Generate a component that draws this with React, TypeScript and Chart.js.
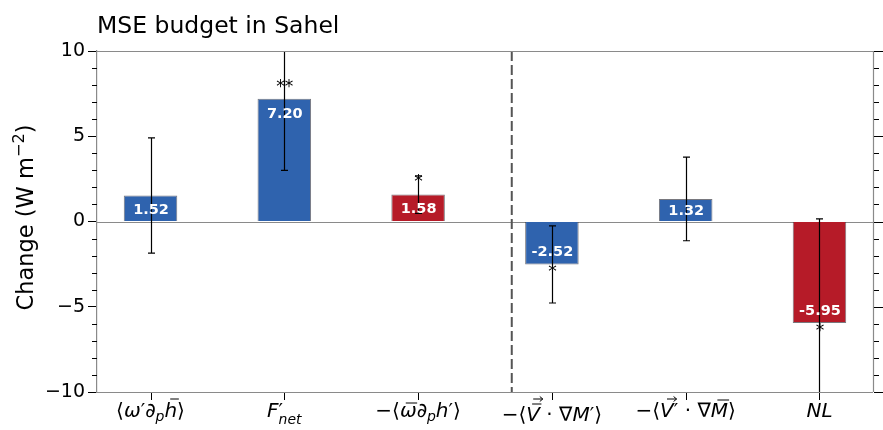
import React, { useEffect, useRef } from 'react';
import { Chart, registerables } from 'chart.js';

Chart.register(...registerables);

// ---------- data ----------
const TITLE = 'MSE budget in Sahel';
const Y_LABEL = 'Change (W m';
const Y_LABEL_SUP = '−2';
const VALUES = [1.52, 7.2, 1.58, -2.52, 1.32, -5.95];
const ERRORS = [3.38, 4.2, 1.1, 2.26, 2.45, 6.1];
const SIGNIF = ['', '**', '*', '*', '', '*'];
const BAR_COLORS = ['#2F63AE', '#2F63AE', '#B61B28', '#2F63AE', '#2F63AE', '#B61B28'];
const Y_MIN = -10;
const Y_MAX = 10;
const Y_STEP = 5;
const DIVIDER_AT = 2.7;

type Run = { t: string; it?: boolean; acc?: 'bar' | 'vec' | 'barvec'; sub?: string; sup?: string };
const X_LABELS: Run[][] = [
  [{ t: '⟨' }, { t: 'ω', it: true }, { t: '′' }, { t: '∂', sub: 'p' }, { t: 'h', it: true, acc: 'bar' }, { t: '⟩' }],
  [{ t: 'F', it: true, sup: '′', sub: 'net' }],
  [{ t: '−' }, { t: '⟨' }, { t: 'ω', it: true, acc: 'bar' }, { t: '∂', sub: 'p' }, { t: 'h', it: true }, { t: '′' }, { t: '⟩' }],
  [{ t: '−' }, { t: '⟨' }, { t: 'V', it: true, acc: 'barvec' }, { t: ' · ' }, { t: '∇' }, { t: 'M', it: true }, { t: '′' }, { t: '⟩' }],
  [{ t: '−' }, { t: '⟨' }, { t: 'V', it: true, acc: 'vec' }, { t: '′' }, { t: ' · ' }, { t: '∇' }, { t: 'M', it: true, acc: 'bar' }, { t: '⟩' }],
  [{ t: 'NL', it: true }],
];

const FONT = '"DejaVu Sans"';
const SPINE = '#8a8a8a';

function fnt(size: number, it?: boolean, bold?: boolean) {
  return `${it ? 'italic ' : ''}${bold ? 'bold ' : ''}${size}px ${FONT}`;
}

function drawRuns(ctx: CanvasRenderingContext2D, runs: Run[], cx: number, baseline: number, fs: number) {
  const subFs = fs * 0.7;
  const items: { r: Run; x: number; bw: number }[] = [];
  let w = 0;
  for (const r of runs) {
    ctx.font = fnt(fs, r.it);
    const bw = r.t ? ctx.measureText(r.t).width : 0;
    let supW = 0;
    let subW = 0;
    if (r.sup) { ctx.font = fnt(fs, false); supW = ctx.measureText(r.sup).width; }
    if (r.sub) { ctx.font = fnt(subFs, true); subW = ctx.measureText(r.sub).width; }
    items.push({ r, x: w, bw });
    w += bw + Math.max(supW, subW);
  }
  const x0 = cx - w / 2;
  ctx.fillStyle = '#000';
  ctx.strokeStyle = '#000';
  ctx.textBaseline = 'alphabetic';
  ctx.textAlign = 'left';
  for (const { r, x, bw } of items) {
    const gx = x0 + x;
    ctx.font = fnt(fs, r.it);
    if (r.t) ctx.fillText(r.t, gx, baseline);
    const top = r.t ? ctx.measureText(r.t).actualBoundingBoxAscent : 0;
    if (r.acc) {
      const skew = r.it ? top * 0.2 : 0;
      ctx.lineWidth = 1;
      const drawBar = (y: number) => {
        ctx.beginPath();
        ctx.moveTo(gx + bw * 0.22 + skew, y);
        ctx.lineTo(gx + bw * 0.9 + skew, y);
        ctx.stroke();
      };
      const drawVec = (y: number) => {
        const a = gx + bw * 0.3 + skew;
        const b = gx + bw * 1.0 + skew;
        ctx.beginPath();
        ctx.moveTo(a, y);
        ctx.lineTo(b, y);
        ctx.moveTo(b - 3, y - 2.5);
        ctx.lineTo(b, y);
        ctx.lineTo(b - 3, y + 2.5);
        ctx.stroke();
      };
      if (r.acc === 'bar') drawBar(baseline - top - 3);
      if (r.acc === 'vec') drawVec(baseline - top - 4);
      if (r.acc === 'barvec') { drawBar(baseline - top - 3); drawVec(baseline - top - 8); }
    }
    const ex = gx + bw;
    if (r.sup) {
      ctx.font = fnt(fs, false);
      ctx.fillText(r.sup, ex, baseline);
    }
    if (r.sub) {
      ctx.font = fnt(subFs, true);
      ctx.fillText(r.sub, ex, baseline + (r.sup ? fs * 0.33 : fs * 0.22));
    }
  }
}

const overlay = {
  id: 'overlay',
  beforeDatasetsDraw(chart: any) {
    const { ctx, chartArea: ca, scales } = chart;
    const y = scales.y;
    const x = scales.x;
    ctx.save();
    // zero line
    ctx.strokeStyle = SPINE;
    ctx.lineWidth = 1.2;
    const y0 = Math.round(y.getPixelForValue(0)) + 0.5;
    ctx.beginPath();
    ctx.moveTo(ca.left, y0);
    ctx.lineTo(ca.right, y0);
    ctx.stroke();
    // divider
    const dx = x.getPixelForValue(DIVIDER_AT);
    ctx.strokeStyle = '#555';
    ctx.lineWidth = 2;
    ctx.setLineDash([10, 4]);
    ctx.beginPath();
    ctx.moveTo(dx, ca.top);
    ctx.lineTo(dx, ca.bottom);
    ctx.stroke();
    ctx.restore();
  },
  afterDatasetsDraw(chart: any) {
    const { ctx, chartArea: ca, scales } = chart;
    const y = scales.y;
    const x = scales.x;
    ctx.save();
    // error bars
    ctx.beginPath();
    ctx.rect(ca.left, ca.top, ca.right - ca.left, ca.bottom - ca.top);
    ctx.clip();
    ctx.strokeStyle = '#000';
    ctx.lineWidth = 1.2;
    VALUES.forEach((v, i) => {
      const px = Math.round(x.getPixelForValue(i)) + 0.5;
      const lo = y.getPixelForValue(v - ERRORS[i]);
      const hi = y.getPixelForValue(v + ERRORS[i]);
      ctx.beginPath();
      ctx.moveTo(px, lo);
      ctx.lineTo(px, hi);
      ctx.moveTo(px - 3.5, lo);
      ctx.lineTo(px + 3.5, lo);
      ctx.moveTo(px - 3.5, hi);
      ctx.lineTo(px + 3.5, hi);
      ctx.stroke();
    });
    // significance asterisks
    ctx.fillStyle = '#000';
    ctx.font = fnt(17);
    ctx.textAlign = 'center';
    ctx.textBaseline = 'alphabetic';
    VALUES.forEach((v, i) => {
      if (!SIGNIF[i]) return;
      const pos = v >= 0 ? v + 0.8 : v - 0.36;
      const cy = y.getPixelForValue(pos);
      ctx.fillText(SIGNIF[i], x.getPixelForValue(i) + 0.5, cy + 17 * 0.38);
    });
    // value labels
    ctx.fillStyle = '#fff';
    ctx.font = fnt(14.5, false, true);
    VALUES.forEach((v, i) => {
      const pos = Math.abs(v) > 2 ? v - Math.sign(v) * 0.8 : v / 2;
      const cy = y.getPixelForValue(pos);
      ctx.fillText(v.toFixed(2), x.getPixelForValue(i) + 0.5, cy + 14.5 * 0.36);
    });
    ctx.restore();
  },
  afterDraw(chart: any) {
    const { ctx, chartArea: ca, scales } = chart;
    const y = scales.y;
    const x = scales.x;
    ctx.save();
    // spines (top, right, bottom)
    ctx.strokeStyle = SPINE;
    ctx.lineWidth = 1.2;
    ctx.beginPath();
    ctx.moveTo(ca.left, ca.top + 0.5);
    ctx.lineTo(ca.right, ca.top + 0.5);
    ctx.moveTo(ca.right + 0.5, ca.top);
    ctx.lineTo(ca.right + 0.5, ca.bottom);
    ctx.moveTo(ca.left, ca.bottom + 0.5);
    ctx.lineTo(ca.right, ca.bottom + 0.5);
    ctx.stroke();
    // minor ticks left & right, major right
    ctx.strokeStyle = '#000';
    ctx.lineWidth = 1;
    ctx.beginPath();
    for (let v = Y_MIN; v <= Y_MAX; v++) {
      const py = Math.round(y.getPixelForValue(v)) + 0.5;
      const major = v % Y_STEP === 0;
      if (!major) {
        ctx.moveTo(ca.left - 5, py);
        ctx.lineTo(ca.left, py);
      }
      ctx.moveTo(ca.right + 1, py);
      ctx.lineTo(ca.right + (major ? 10 : 6), py);
    }
    // bottom category ticks
    X_LABELS.forEach((_, i) => {
      const px = Math.round(x.getPixelForValue(i)) + 0.5;
      ctx.moveTo(px, ca.bottom + 1);
      ctx.lineTo(px, ca.bottom + 8);
    });
    ctx.stroke();
    // x labels
    X_LABELS.forEach((runs, i) => {
      const tall = runs.some((r) => r.acc === 'barvec');
      drawRuns(ctx, runs, x.getPixelForValue(i), tall ? 421 : 417, 20);
    });
    // title
    ctx.fillStyle = '#000';
    ctx.font = fnt(23.5);
    ctx.textAlign = 'left';
    ctx.textBaseline = 'alphabetic';
    ctx.fillText(TITLE, ca.left, 33);
    // y label (rotated)
    const fs = 22.5;
    const sfs = fs * 0.72;
    ctx.font = fnt(fs);
    const w1 = ctx.measureText(Y_LABEL).width;
    const w3 = ctx.measureText(')').width;
    ctx.font = fnt(sfs);
    const w2 = ctx.measureText(Y_LABEL_SUP).width;
    const total = w1 + w2 + w3;
    ctx.translate(33, (ca.top + ca.bottom) / 2 - 4);
    ctx.rotate(-Math.PI / 2);
    let tx = -total / 2;
    ctx.font = fnt(fs);
    ctx.fillText(Y_LABEL, tx, 0);
    tx += w1;
    ctx.font = fnt(sfs);
    ctx.fillText(Y_LABEL_SUP, tx, -fs * 0.42);
    tx += w2;
    ctx.font = fnt(fs);
    ctx.fillText(')', tx, 0);
    ctx.restore();
  },
};

export default function App() {
  const ref = useRef<HTMLCanvasElement | null>(null);
  useEffect(() => {
    if (!ref.current) return;
    const chart = new Chart(ref.current, {
      type: 'bar',
      data: {
        datasets: [
          {
            data: VALUES.map((v, i) => ({ x: i, y: v })),
            backgroundColor: BAR_COLORS,
            borderColor: 'rgba(30,30,40,0.6)',
            borderWidth: 1,
            barPercentage: 0.4,
            categoryPercentage: 1,
          },
        ],
      },
      plugins: [overlay],
      options: {
        responsive: false,
        animation: false,
        layout: { padding: { top: 51, right: 10, left: 0, bottom: 0 } },
        plugins: { legend: { display: false }, tooltip: { enabled: false }, title: { display: false } },
        scales: {
          x: {
            type: 'linear',
            min: -0.4,
            max: 5.4,
            offset: false,
            ticks: { display: false, stepSize: 1, includeBounds: false },
            grid: { display: false },
            border: { display: false },
            afterFit: (s: any) => { s.height = 38; },
          },
          y: {
            min: Y_MIN,
            max: Y_MAX,
            ticks: {
              stepSize: Y_STEP,
              color: '#000',
              padding: 3,
              font: { family: 'DejaVu Sans', size: 19 },
              callback: (v: any) => (Number(v) < 0 ? '\u2212' + Math.abs(Number(v)) : String(v)),
            },
            grid: { drawOnChartArea: false, drawTicks: true, tickLength: 9, tickColor: '#000', tickWidth: 1 },
            border: { display: true, color: SPINE, width: 1.2 },
            afterFit: (s: any) => { s.width = 97; },
          },
        },
      },
    } as any);
    return () => chart.destroy();
  }, []);
  return (
    <div style={{ position: 'absolute', left: 0, top: 0, width: 883, height: 430 }}>
      <canvas ref={ref} width={883} height={430} style={{ display: 'block' }} />
    </div>
  );
}
